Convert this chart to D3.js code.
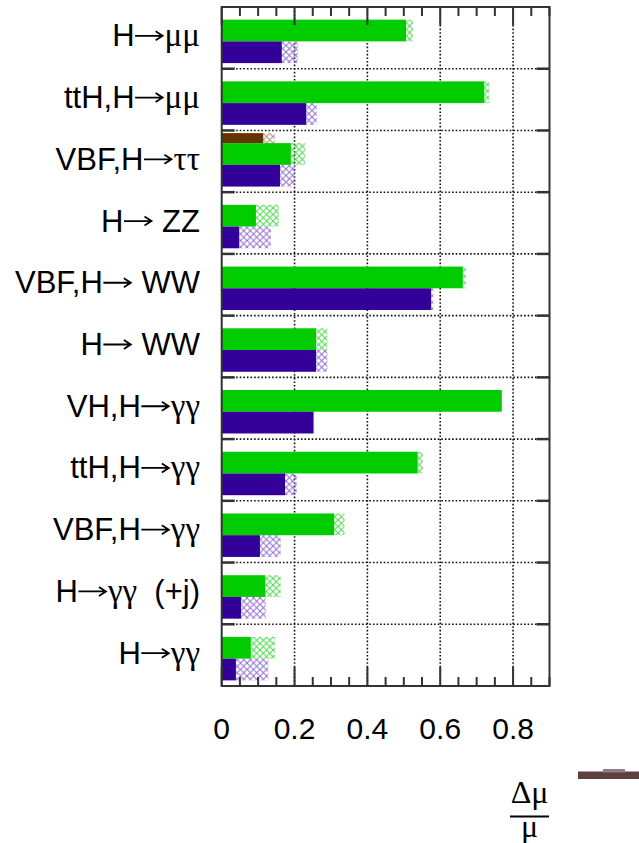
<!DOCTYPE html>
<html><head><meta charset="utf-8">
<script src="https://cdn.jsdelivr.net/npm/d3@7"></script>
<style>html,body{margin:0;padding:0;background:#fff;}svg{display:block;}</style>
</head><body>
<script>
// ---- data ----
const categories = ["H→μμ","ttH,H→μμ","VBF,H→ττ","H→ ZZ","VBF,H→ WW","H→ WW","VH,H→γγ","ttH,H→γγ","VBF,H→γγ","H→γγ  (+j)","H→γγ"];
const greenSolid  = [0.506,0.721,0.190,0.094,0.662,0.259,0.769,0.538,0.309,0.120,0.080];
const greenTotal  = [0.525,0.735,0.229,0.157,0.670,0.290,0.769,0.552,0.337,0.162,0.146];
const purpleSolid = [0.165,0.232,0.160,0.048,0.575,0.259,0.252,0.174,0.105,0.053,0.039];
const purpleTotal = [0.209,0.261,0.201,0.135,0.581,0.290,0.254,0.206,0.162,0.121,0.128];
const brownSolid  = [null,null,0.114,null,null,null,null,null,null,null,null];
const brownTotal  = [null,null,0.146,null,null,null,null,null,null,null,null];
const tickValues = [0,0.2,0.4,0.6,0.8];
const tickLabels = ["0","0.2","0.4","0.6","0.8"];

// ---- layout ----
const W=639,H=843;
const L=221.7,R=549.5,T=7,B=686;
const svg=d3.select("body").append("svg").attr("width",W).attr("height",H);
const x=d3.scaleLinear().domain([0,0.9]).range([L,R]);
const y=d3.scaleBand().domain(categories).range([T,B]).padding(0);
const bw=y.bandwidth();

const defs=svg.append("defs");
function hatch(id,color){
  const p=defs.append("pattern").attr("id",id).attr("patternUnits","userSpaceOnUse").attr("width",6.5).attr("height",6.5);
  p.append("path").attr("d","M0,0L6.5,6.5M6.5,0L0,6.5").attr("stroke",color).attr("stroke-width",1).attr("fill","none");
}
hatch("hg","#4cd84c");hatch("hp","#9070d0");hatch("hb","#b08c70");

// gridlines
const grid=svg.append("g").attr("stroke","#111").attr("stroke-width",1.6).attr("stroke-dasharray","1.6,2");
grid.selectAll("line.v").data(tickValues.slice(1)).join("line")
  .attr("x1",d=>x(d)).attr("x2",d=>x(d)).attr("y1",T).attr("y2",B);
grid.selectAll("line.h").data(categories.slice(1)).join("line")
  .attr("x1",L).attr("x2",R).attr("y1",d=>y(d)).attr("y2",d=>y(d));

// bars
const rows=categories.map((c,i)=>({c,i}));
function bars(solid,total,color,hid,y0,h){
  const g=svg.append("g");
  const data=rows.filter(r=>solid[r.i]!=null);
  g.selectAll("rect.h").data(data).join("rect")
    .attr("x",r=>x(solid[r.i])).attr("width",r=>Math.max(0,x(total[r.i])-x(solid[r.i])))
    .attr("y",r=>y(r.c)+y0*bw).attr("height",h*bw).attr("fill","url(#"+hid+")");
  g.selectAll("rect.s").data(data).join("rect")
    .attr("x",x(0)).attr("width",r=>x(solid[r.i])-x(0))
    .attr("y",r=>y(r.c)+y0*bw).attr("height",h*bw).attr("fill",color);
}
bars(brownSolid,brownTotal,"#663300","hb",0.043,0.162);
bars(greenSolid,greenTotal,"#00cc00","hg",0.205,0.352);
bars(purpleSolid,purpleTotal,"#330099","hp",0.557,0.352);

// frame & ticks
const ax=svg.append("g").attr("stroke","#333");
ax.append("rect").attr("x",L).attr("y",T).attr("width",R-L).attr("height",B-T).attr("fill","none").attr("stroke-width",2);
const minor=d3.range(0,0.9001,0.05);
const isMajor=d=>tickValues.some(t=>Math.abs(t-d)<1e-6);
ax.selectAll("line.tt").data(minor).join("line").attr("stroke-width",2)
  .attr("x1",d=>x(d)).attr("x2",d=>x(d)).attr("y1",T).attr("y2",d=>T+(isMajor(d)?18:9));
ax.selectAll("line.tb").data(minor).join("line").attr("stroke-width",2)
  .attr("x1",d=>x(d)).attr("x2",d=>x(d)).attr("y1",B).attr("y2",d=>B-(isMajor(d)?19:9));
ax.selectAll("line.tl").data(categories.slice(1)).join("line").attr("stroke-width",2.5)
  .attr("x1",L).attr("x2",L+13).attr("y1",d=>y(d)).attr("y2",d=>y(d));
ax.selectAll("line.tr").data(categories.slice(1)).join("line").attr("stroke-width",2.5)
  .attr("x1",R-13).attr("x2",R).attr("y1",d=>y(d)).attr("y2",d=>y(d));

// tick labels
svg.selectAll("text.tick").data(tickValues).join("text")
  .attr("x",d=>x(d)).attr("y",739).attr("text-anchor","middle")
  .attr("font-family","Liberation Sans, Arial, sans-serif").attr("font-size",30).attr("fill","#000")
  .text((d,i)=>tickLabels[i]);

// category labels: text before arrow, drawn arrow, text after arrow
const sans="Liberation Sans, Arial, sans-serif", serif="Liberation Serif, Times New Roman, serif";
function addRich(g,str,xEnd,yb){
  const t=g.append("text").attr("x",xEnd).attr("y",yb).attr("text-anchor","end")
    .attr("font-family",sans).attr("font-size",31).attr("fill","#000").attr("xml:space","preserve");
  let segs=[];
  for(const ch of str){
    const k=/[μτγ]/.test(ch)?"g":"s";
    if(segs.length&&segs[segs.length-1].k===k)segs[segs.length-1].s+=ch;else segs.push({k,s:ch});
  }
  segs.forEach(s=>{
    const ts=t.append("tspan").text(s.s);
    if(s.k==="g")ts.attr("font-family",serif).attr("font-size",33);
  });
  return t;
}
const lab=svg.append("g");
const arrowLen=30;
categories.forEach(c=>{
  const yb=y(c)+bw/2+8.5;
  const [left,right]=c.split("→");
  const rt=addRich(lab,right,200,yb);
  const wr=rt.node().getComputedTextLength();
  const xa=200-wr-arrowLen;
  const ay=yb-10.5;
  lab.append("path").attr("d",`M${xa+0.5},${ay}H${xa+arrowLen-2}M${xa+arrowLen-9},${ay-4.5}L${xa+arrowLen-2},${ay}L${xa+arrowLen-9},${ay+4.5}`)
    .attr("fill","none").attr("stroke","#000").attr("stroke-width",1.8);
  addRich(lab,left,xa,yb);
});

// axis title Δμ / μ
svg.append("text").attr("x",529.5).attr("y",803).attr("text-anchor","middle").attr("font-family",serif).attr("font-size",32).text("Δμ");
svg.append("line").attr("x1",510).attr("x2",549).attr("y1",816.5).attr("y2",816.5).attr("stroke","#000").attr("stroke-width",2.2);
svg.append("text").attr("x",529.5).attr("y",837).attr("text-anchor","middle").attr("font-family",serif).attr("font-size",32).text("μ");

// stray decoration at right edge (as in reference)
svg.append("rect").attr("x",578).attr("y",771.5).attr("width",61).attr("height",7.5).attr("fill","#5e4040");
svg.append("rect").attr("x",603).attr("y",769).attr("width",22).attr("height",3.5).attr("fill","#8a8080");
</script>
</body></html>
